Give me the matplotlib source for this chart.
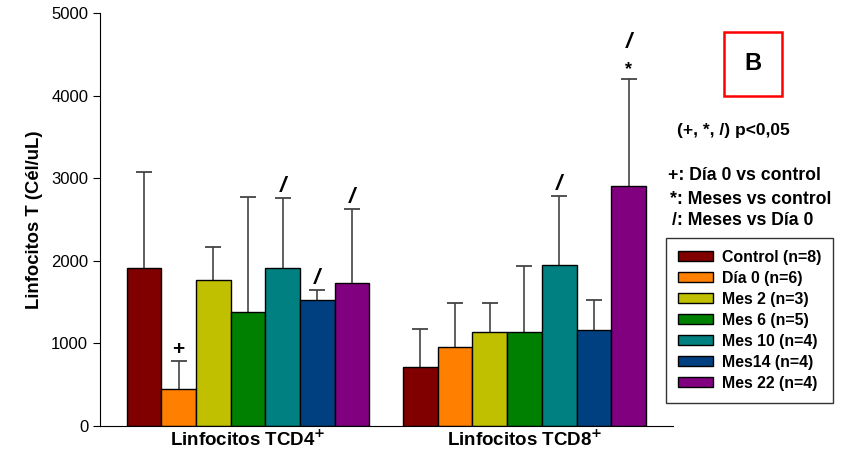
import numpy as np
import matplotlib.pyplot as plt

plt.rcParams['font.family'] = ['Liberation Sans', 'DejaVu Sans']

groups = [r'Linfocitos TCD4$^{\mathbf{+}}$', r'Linfocitos TCD8$^{\mathbf{+}}$']
series = ['Control (n=8)', 'Día 0 (n=6)', 'Mes 2 (n=3)', 'Mes 6 (n=5)',
          'Mes 10 (n=4)', 'Mes14 (n=4)', 'Mes 22 (n=4)']
colors = ['#800000', '#FF8000', '#C0C000', '#008000', '#008080', '#004080', '#800080']

cd4_mean = [1910, 445, 1765, 1380, 1912, 1525, 1730]
cd4_top = [3078, 790, 2163, 2776, 2756, 1643, 2623]
cd8_mean = [711, 956, 1134, 1134, 1945, 1166, 2906]
cd8_top = [1171, 1489, 1489, 1941, 2781, 1525, 4197]

# significance marks (group, series index, label)
marks = [(0, 1, '+'), (0, 4, '/'), (0, 5, '/'), (0, 6, '/'),
         (1, 4, '/'), (1, 6, '*')]

fig = plt.figure(figsize=(8.47, 4.58), dpi=100)
ax = fig.add_axes([100 / 847, 1 - 426 / 458, 573 / 847, 413 / 458])

centers = np.arange(len(groups))
w = 1 / 7.97
means = np.array([cd4_mean, cd8_mean])
tops = np.array([cd4_top, cd8_top])

for i, (name, c) in enumerate(zip(series, colors)):
    x = centers + (i - 3) * w
    ax.bar(x, means[:, i], width=w, color=c, edgecolor='black', linewidth=1, label=name, zorder=2)
    # upper-only error bars
    ax.vlines(x, means[:, i], tops[:, i], color='#444444', linewidth=1.2, zorder=1)
    ax.plot(x, tops[:, i], ls='none', marker='_', markersize=12, markeredgewidth=1.3,
            color='#444444', zorder=1)

for g, i, s in marks:
    x = centers[g] + (i - 3) * w
    y = tops[g, i]
    if s == '+':
        ax.annotate(s, (x, y), xytext=(0, 1), textcoords='offset points', ha='center',
                    va='bottom', fontsize=15, fontweight='bold')
    elif s == '*':
        ax.annotate(s, (x, y), xytext=(0, 1), textcoords='offset points', ha='center',
                    va='bottom', fontsize=13, fontweight='bold')
        ax.annotate('/', (x, y), xytext=(0, 19), textcoords='offset points', ha='center',
                    va='bottom', fontsize=16, fontweight='bold', style='italic')
    else:
        ax.annotate(s, (x, y), xytext=(0, 1), textcoords='offset points', ha='center',
                    va='bottom', fontsize=16, fontweight='bold', style='italic')

ax.set_ylim(0, 5000)
ax.set_xlim(-0.535, 1.537)
ax.set_yticks(range(0, 5001, 1000))
ax.set_xticks(centers)
ax.set_xticklabels(groups, fontsize=13.5, fontweight='bold')
ax.tick_params(axis='x', length=0, pad=3)
ax.tick_params(axis='y', direction='out', length=5, labelsize=12)
ax.spines['top'].set_visible(False)
ax.spines['right'].set_visible(False)
ax.set_ylabel('Linfocitos T (Cél/uL)', fontsize=13.3, fontweight='bold', labelpad=6)

fig.text(753 / 847, 1 - 64 / 458, 'B', fontsize=17, fontweight='bold', ha='center', va='center',
         bbox=dict(boxstyle='square,pad=0.85', facecolor='white', edgecolor='red', linewidth=1.8))
fig.text(677 / 847, 1 - 130 / 458, '(+, *, /) p<0,05', fontsize=12.5, fontweight='bold', va='center')
fig.text(668 / 847, 1 - 175 / 458, '+: Día 0 vs control', fontsize=12.7, fontweight='bold', va='center')
fig.text(670 / 847, 1 - 199 / 458, '*: Meses vs control', fontsize=12.7, fontweight='bold', va='center')
fig.text(672 / 847, 1 - 221 / 458, '/: Meses vs Día 0', fontsize=12.7, fontweight='bold', va='center')

leg = fig.legend(loc='upper left', bbox_to_anchor=(666 / 847, 1 - 238 / 458),
                 prop={'weight': 'bold', 'size': 11.4}, frameon=True, fancybox=False,
                 edgecolor='black', handlelength=2.2, handleheight=0.6, labelspacing=0.38,
                 borderpad=0.75, handletextpad=0.6, borderaxespad=0)
leg.get_frame().set_linewidth(1)

fig.savefig('out.png', dpi=100)
